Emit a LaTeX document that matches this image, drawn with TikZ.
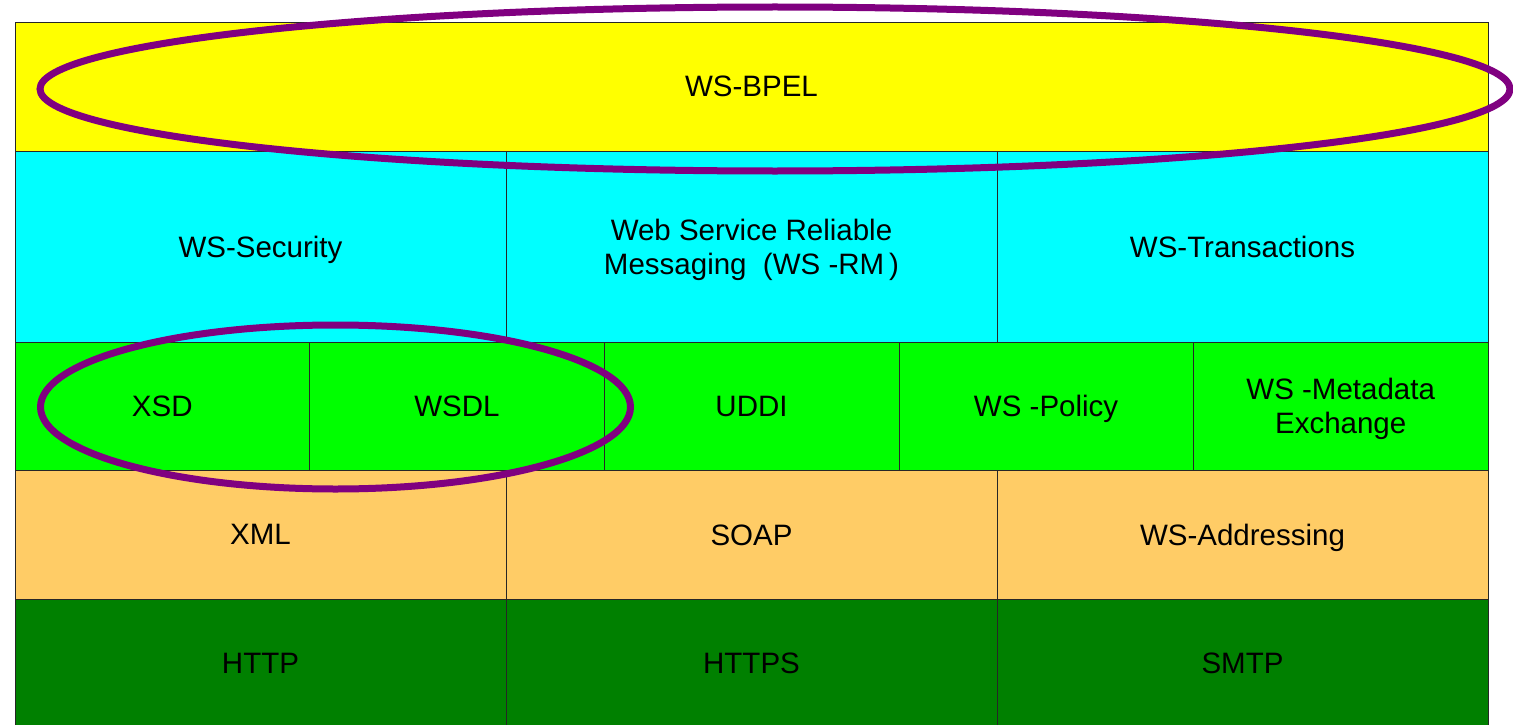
\documentclass[tikz,border=0pt]{standalone}
\usepackage{fontspec}
\setmainfont{Liberation Sans}
\definecolor{bpelyellow}{HTML}{FFFF00}
\definecolor{qoscyan}{HTML}{00FFFF}
\definecolor{descgreen}{HTML}{00FF00}
\definecolor{msgorange}{HTML}{FFCC66}
\definecolor{transgreen}{HTML}{008000}
\definecolor{ringpurple}{HTML}{800080}
\begin{document}
\begin{tikzpicture}[x=1pt,y=-1pt,
  cell/.style={draw=black!85, line width=0.6pt, rectangle, inner sep=0pt, outer sep=0pt,
    align=center, text depth=0pt, font=\fontsize{29.5}{34}\selectfont},
  third/.style={cell, minimum width=491pt},
  fifth/.style={cell, minimum width=294.6pt},
  ring/.style={draw=ringpurple, line width=7pt}]
\useasboundingbox (0,0) rectangle (1513,725);

% orchestration layer
\node[cell, fill=bpelyellow, minimum width=1473pt, minimum height=129pt] (bpel) at (751.5,86.5) {WS-BPEL};

% quality of service layer
\node[third, fill=qoscyan, minimum height=191pt] (sec) at (260.5,246.5) {WS-Security};
\node[third, fill=qoscyan, minimum height=191pt] (rm) at (751.5,246.5) {Web Service Reliable\\Messaging\ \ (WS -RM\,)};
\node[third, fill=qoscyan, minimum height=191pt] (tx) at (1242.5,246.5) {WS-Transactions};

% description and discovery layer
\node[fifth, fill=descgreen, minimum height=128.5pt] (xsd) at (162.3,406.25) {XSD};
\node[fifth, fill=descgreen, minimum height=128.5pt] (wsdl) at (456.9,406.25) {WSDL};
\node[fifth, fill=descgreen, minimum height=128.5pt] (uddi) at (751.5,406.25) {UDDI};
\node[fifth, fill=descgreen, minimum height=128.5pt] (policy) at (1046.1,406.25) {WS -Policy};
\node[fifth, fill=descgreen, minimum height=128.5pt] (mex) at (1340.7,406.25) {WS -Metadata\\Exchange};

% messaging layer
\node[third, fill=msgorange, minimum height=128.5pt] (xml) at (260.5,534.75) {XML};
\node[third, fill=msgorange, minimum height=128.5pt] (soap) at (751.5,534.75) {SOAP};
\node[third, fill=msgorange, minimum height=128.5pt] (addr) at (1242.5,534.75) {WS-Addressing};

% transport layer
\node[third, fill=transgreen, minimum height=128pt] (http) at (260.5,663) {HTTP};
\node[third, fill=transgreen, minimum height=128pt] (https) at (751.5,663) {HTTPS};
\node[third, fill=transgreen, minimum height=128pt] (smtp) at (1242.5,663) {SMTP};

% highlight rings
\coordinate (bpelring) at (775,89);
\coordinate (wsdlring) at (335.5,407);
\draw[ring] (bpelring) ellipse [x radius=735, y radius=82];
\draw[ring] (wsdlring) ellipse [x radius=295, y radius=82];
\end{tikzpicture}
\end{document}
